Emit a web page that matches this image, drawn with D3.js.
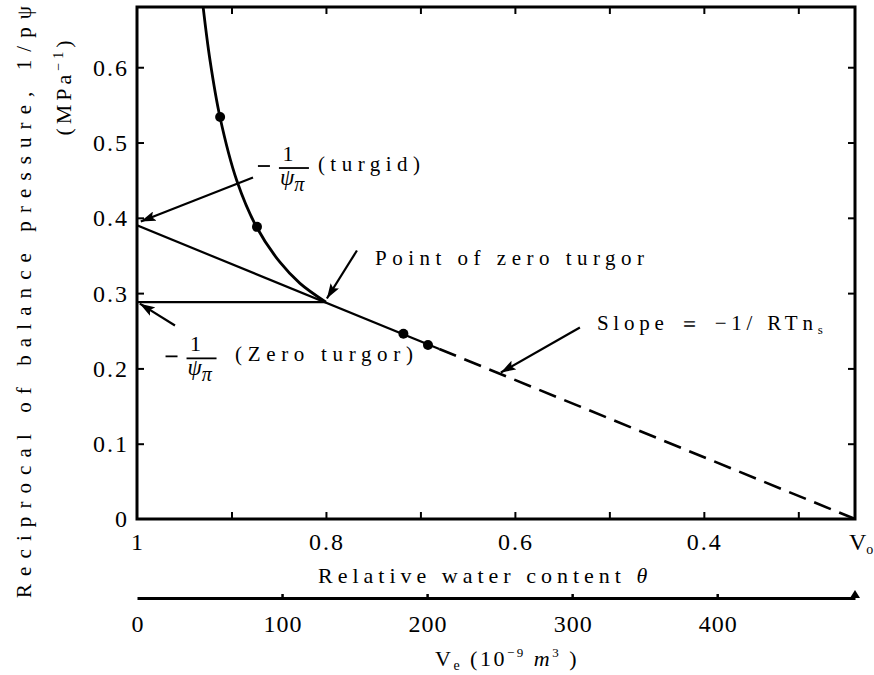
<!DOCTYPE html>
<html><head><meta charset="utf-8">
<script src="https://cdn.jsdelivr.net/npm/d3@7"></script>
<style>
body{margin:0;background:#fff}
text{font-family:"Liberation Serif","DejaVu Serif",serif;fill:#000}
</style></head><body>
<svg id="c" width="874" height="675"></svg>
<script>
// ---------- data ----------
const yTickValues = [0, 0.1, 0.2, 0.3, 0.4, 0.5, 0.6];
const yTickLabels = ["0", "0.1", "0.2", "0.3", "0.4", "0.5", "0.6"];
const thetaTickValues = [0.9, 0.8, 0.7, 0.6, 0.5, 0.4, 0.3];
const thetaLabelValues = [1, 0.8, 0.6, 0.4];
const thetaLabels = ["1", "0.8", "0.6", "0.4"];
const thetaV0 = 0.24;
const veTickValues = [100, 200, 300, 400];
const veLabelValues = [0, 100, 200, 300, 400];
const veMax = 495;
const curveTheta = [0.93, 0.9228, 0.9122, 0.8945, 0.8733, 0.8487, 0.8275, 0.80];
const curveValue = [0.68, 0.610, 0.534, 0.450, 0.3875, 0.341, 0.313, 0.288];
const pointTheta = [0.912, 0.873, 0.718, 0.692];
const pointValue = [0.534, 0.388, 0.246, 0.231];
const lineTheta = [1, 0.68, 0.24];
const lineValue = [0.39, 0.2258, 0];
const zeroTurgor = [0.80, 0.288];
const arrowTurgid = [[0.8772, 0.4535], [0.996, 0.395]];
const arrowZero = [[0.9598, 0.257], [0.997, 0.286]];
const arrowPoint = [[0.7672, 0.3566], [0.799, 0.2928]];
const arrowSlope = [[0.5312, 0.2543], [0.6148, 0.1946]];

// ---------- scales ----------
const svg = d3.select("#c");
svg.append("rect").attr("width", 874).attr("height", 675).attr("fill", "#fff");
const x = d3.scaleLinear().domain([1, thetaV0]).range([137, 855]);
const y = d3.scaleLinear().domain([0, 0.68]).range([519, 7]);
const ve = d3.scaleLinear().domain([0, veMax]).range([137, 855]);

const defs = svg.append("defs");
defs.append("clipPath").attr("id", "clip").append("rect")
  .attr("x", x(1)).attr("y", y(0.68)).attr("width", x(thetaV0) - x(1)).attr("height", y(0) - y(0.68));
defs.append("marker").attr("id", "ah").attr("viewBox", "0 0 15 10")
  .attr("refX", 15).attr("refY", 5).attr("markerWidth", 15).attr("markerHeight", 10)
  .attr("markerUnits", "userSpaceOnUse").attr("orient", "auto")
  .append("path").attr("d", "M0,0 L15,5 L0,10 L3,5 z").attr("fill", "#000");

// ---------- axes ----------
function styleAxis(g) {
  g.select(".domain").remove();
  g.selectAll(".tick line").attr("stroke", "#000").attr("stroke-width", 2);
  g.selectAll(".tick text").remove();
}
svg.append("g").attr("transform", `translate(0,${y(0)})`)
  .call(d3.axisBottom(x).tickValues(thetaTickValues).tickSize(-7)).call(styleAxis);
svg.append("g").attr("transform", `translate(0,${y(0.68)})`)
  .call(d3.axisTop(x).tickValues(thetaTickValues).tickSize(-7)).call(styleAxis);
svg.append("g").attr("transform", `translate(${x(1)},0)`)
  .call(d3.axisLeft(y).tickValues(yTickValues.slice(1)).tickSize(-7)).call(styleAxis);
svg.append("g").attr("transform", `translate(${x(thetaV0)},0)`)
  .call(d3.axisRight(y).tickValues(yTickValues.slice(1)).tickSize(-7)).call(styleAxis);

svg.append("rect").attr("x", x(1)).attr("y", y(0.68))
  .attr("width", x(thetaV0) - x(1)).attr("height", y(0) - y(0.68))
  .attr("fill", "none").attr("stroke", "#000").attr("stroke-width", 3);

// y tick labels
svg.append("g").selectAll("text").data(yTickValues).join("text")
  .attr("x", x(1) - 8).attr("y", d => y(d)).attr("dy", "0.35em")
  .attr("text-anchor", "end").attr("font-size", 24).attr("letter-spacing", 2)
  .text((d, i) => yTickLabels[i]);

// theta labels
svg.append("g").selectAll("text").data(thetaLabelValues).join("text")
  .attr("x", d => x(d) + 1).attr("y", 550)
  .attr("text-anchor", "middle").attr("font-size", 24).attr("letter-spacing", 2)
  .text((d, i) => thetaLabels[i]);
const v0 = svg.append("text").attr("x", x(thetaV0) - 6).attr("y", 550)
  .attr("font-size", 24);
v0.append("tspan").text("V");
v0.append("tspan").attr("font-size", 14).attr("dy", 4).text("o");

// x title
const xt = svg.append("text").attr("x", 318).attr("y", 583)
  .attr("font-size", 22).attr("letter-spacing", 5);
xt.append("tspan").text("Relative water content  ");
xt.append("tspan").attr("font-style", "italic").text("θ");

// Ve axis
const veAxis = svg.append("g").attr("transform", "translate(0,598)")
  .call(d3.axisBottom(ve).tickValues(veTickValues).tickSize(-4).tickSizeOuter(0));
veAxis.select(".domain").attr("stroke", "#000").attr("stroke-width", 3);
veAxis.selectAll(".tick line").attr("stroke", "#000").attr("stroke-width", 2.5);
veAxis.selectAll(".tick text").remove();
svg.append("path")
  .attr("d", d3.line()([[ve(veMax) - 5, 598], [ve(veMax), 590], [ve(veMax) + 5, 598]]) + "z")
  .attr("fill", "#000");
svg.append("g").selectAll("text").data(veLabelValues).join("text")
  .attr("x", d => ve(d) + 1).attr("y", 632)
  .attr("text-anchor", "middle").attr("font-size", 24).attr("letter-spacing", 1)
  .text(d => d);
const vt = svg.append("text").attr("x", 435).attr("y", 666)
  .attr("font-size", 22).attr("letter-spacing", 2.5);
vt.append("tspan").text("V");
vt.append("tspan").attr("font-size", 14).attr("dy", 4).text("e");
vt.append("tspan").attr("dy", -4).text(" (10");
vt.append("tspan").attr("font-size", 13).attr("dy", -9).text("−9");
vt.append("tspan").attr("dy", 9).attr("font-style", "italic").text(" m");
vt.append("tspan").attr("font-size", 13).attr("dy", -9).text("3");
vt.append("tspan").attr("dy", 9).text(" )");

// y titles
svg.append("text").attr("transform", "translate(24,302) rotate(-90)")
  .attr("text-anchor", "middle").attr("dy", "0.35em").attr("font-size", 21)
  .attr("textLength", 592).attr("lengthAdjust", "spacing")
  .text("Reciprocal of balance pressure, 1/pψ");
const yu = svg.append("text").attr("transform", "translate(63,86) rotate(-90)")
  .attr("text-anchor", "middle").attr("dy", "0.35em").attr("font-size", 22).attr("letter-spacing", 4);
yu.append("tspan").text("(MPa");
yu.append("tspan").attr("font-size", 14).attr("dy", -8).text("−1");
yu.append("tspan").attr("dy", 8).text(")");

// ---------- data marks ----------
const plot = svg.append("g").attr("clip-path", "url(#clip)");
const curveData = curveTheta.map((t, i) => [x(t), y(curveValue[i])]);
plot.append("path").attr("d", d3.line().curve(d3.curveCatmullRom.alpha(0.5))(curveData))
  .attr("fill", "none").attr("stroke", "#000").attr("stroke-width", 2.8);

const lineData = lineTheta.map((t, i) => [x(t), y(lineValue[i])]);
plot.append("path").attr("d", d3.line()(lineData.slice(0, 2)))
  .attr("fill", "none").attr("stroke", "#000").attr("stroke-width", 2.2);
plot.append("path").attr("d", d3.line()(lineData.slice(1)))
  .attr("fill", "none").attr("stroke", "#000").attr("stroke-width", 2.6)
  .attr("stroke-dasharray", "18,9");

plot.append("path").attr("d", d3.line()([[x(1), y(zeroTurgor[1])], [x(zeroTurgor[0]), y(zeroTurgor[1])]]))
  .attr("fill", "none").attr("stroke", "#000").attr("stroke-width", 2.4);

plot.selectAll("circle").data(pointTheta).join("circle")
  .attr("cx", d => x(d)).attr("cy", (d, i) => y(pointValue[i])).attr("r", 5).attr("fill", "#000");

// ---------- annotations ----------
[arrowTurgid, arrowZero, arrowPoint, arrowSlope].forEach(a => {
  svg.append("path").attr("d", d3.line()(a.map(p => [x(p[0]), y(p[1])])))
    .attr("stroke", "#000").attr("stroke-width", 2.2).attr("fill", "none")
    .attr("marker-end", "url(#ah)");
});

function fraction(cx, cy) { // cx: minus-sign left, cy: fraction bar y
  svg.append("line").attr("x1", cx).attr("x2", cx + 12).attr("y1", cy).attr("y2", cy)
    .attr("stroke", "#000").attr("stroke-width", 1.8);
  svg.append("text").attr("x", cx + 30).attr("y", cy - 5).attr("text-anchor", "middle")
    .attr("font-size", 22).text("1");
  svg.append("line").attr("x1", cx + 21).attr("x2", cx + 51).attr("y1", cy + 2).attr("y2", cy + 2)
    .attr("stroke", "#000").attr("stroke-width", 1.8);
  const t = svg.append("text").attr("x", cx + 22).attr("y", cy + 19).attr("font-size", 23)
    .attr("font-style", "italic");
  t.append("tspan").text("ψ");
  t.append("tspan").attr("font-size", 20).attr("dy", 6).text("π");
}
fraction(x(0.8720), y(0.4688));
svg.append("text").attr("x", x(0.8085)).attr("y", y(0.462)).attr("font-size", 21)
  .attr("textLength", 102).attr("lengthAdjust", "spacing").text("(turgid)");
fraction(x(0.9698), y(0.216));
svg.append("text").attr("x", x(0.8963)).attr("y", y(0.210)).attr("font-size", 21)
  .attr("textLength", 178).attr("lengthAdjust", "spacing").text("(Zero  turgor)");
svg.append("text").attr("x", x(0.748)).attr("y", y(0.337)).attr("font-size", 21)
  .attr("textLength", 269).attr("lengthAdjust", "spacing").text("Point of zero turgor");
const st = svg.append("text").attr("x", x(0.5132)).attr("y", y(0.251)).attr("font-size", 21)
  .attr("letter-spacing", 4.8);
st.append("tspan").text("Slope ＝ −1/ RTn");
st.append("tspan").attr("font-size", 13).attr("dy", 4).text("s");
</script>
</body></html>
